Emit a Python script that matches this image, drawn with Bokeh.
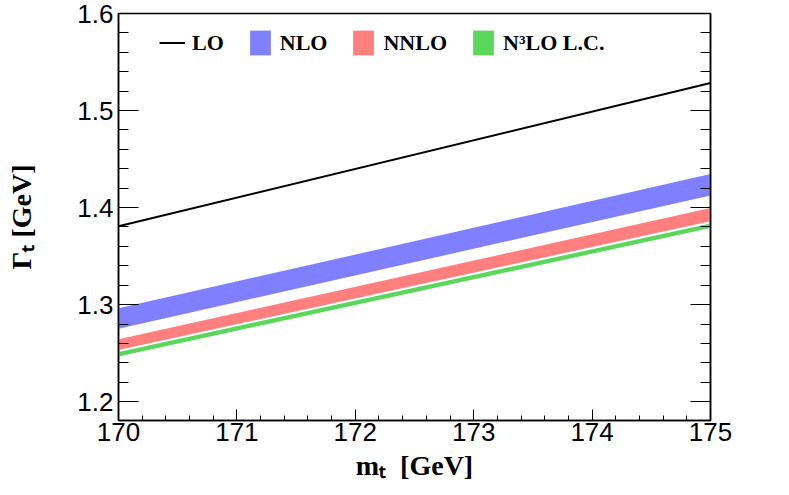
from bokeh.plotting import figure
from bokeh.models import (Range1d, LinearAxis, FixedTicker, Legend, LegendItem)
from bokeh.embed import file_html
from bokeh.resources import INLINE

# ---- data ----
mt = [170.0, 175.0]
lo = [1.3808, 1.5283]
nlo_lo = [1.2752, 1.4125]
nlo_hi = [1.2962, 1.4346]
nnlo_lo = [1.2533, 1.3859]
nnlo_hi = [1.2643, 1.3995]
n3lo_lo = [1.2466, 1.3790]
n3lo_hi = [1.2513, 1.3835]

x_ticks = [170, 171, 172, 173, 174, 175]
x_minor = [170 + 0.2 * i for i in range(26)]
y_ticks = [1.2, 1.3, 1.4, 1.5, 1.6]
y_minor = [round(1.18 + 0.02 * i, 2) for i in range(22)]

x_title = "mₜ\u00a0\u00a0[GeV]"
y_title = "Γₜ [GeV]"

c_nlo = "#7f7fff"
c_nnlo = "#ff7f7f"
c_n3lo = "#5bd75b"

p = figure(frame_width=592, frame_height=407, output_backend="svg",
           toolbar_location=None, x_range=Range1d(170, 175),
           y_range=Range1d(1.1806, 1.6),
           min_border_left=118, min_border_top=13, min_border_right=60,
           min_border_bottom=66)
p.background_fill_color = "white"
p.border_fill_color = "white"
p.xgrid.visible = False
p.ygrid.visible = False
p.outline_line_color = "black"
p.outline_line_width = 1.5

r_nlo = p.varea(x=mt, y1=nlo_lo, y2=nlo_hi, fill_color=c_nlo)
r_nnlo = p.varea(x=mt, y1=nnlo_lo, y2=nnlo_hi, fill_color=c_nnlo)
r_n3lo = p.varea(x=mt, y1=n3lo_lo, y2=n3lo_hi, fill_color=c_n3lo)
r_lo = p.line(x=mt, y=lo, line_color="black", line_width=2)

tick_font = "Liberation Sans"
serif = "Liberation Serif"

xa = p.xaxis[0]
xa.ticker = FixedTicker(ticks=x_ticks, minor_ticks=x_minor)
xa.major_tick_in = 11
xa.major_tick_out = 0
xa.minor_tick_in = 5
xa.minor_tick_out = 0
xa.axis_line_width = 1.5
xa.major_label_text_font = tick_font
xa.major_label_text_font_size = "26px"
xa.major_label_text_color = "black"
xa.major_label_standoff = 2
xa.axis_label = x_title
xa.axis_label_text_font = serif
xa.axis_label_text_font_style = "bold"
xa.axis_label_text_font_size = "28px"
xa.axis_label_text_color = "black"
xa.axis_label_standoff = 6

ya = p.yaxis[0]
ya.ticker = FixedTicker(ticks=y_ticks, minor_ticks=y_minor)
ya.major_tick_in = 20
ya.major_tick_out = 0
ya.minor_tick_in = 10
ya.minor_tick_out = 0
ya.axis_line_width = 1.5
ya.major_label_text_font = tick_font
ya.major_label_text_font_size = "26px"
ya.major_label_text_color = "black"
ya.major_label_standoff = 5
ya.axis_label = y_title
ya.axis_label_text_font = serif
ya.axis_label_text_font_style = "bold"
ya.axis_label_text_font_size = "28px"
ya.axis_label_text_color = "black"
ya.axis_label_standoff = 37

ra = LinearAxis(ticker=FixedTicker(ticks=y_ticks, minor_ticks=y_minor))
ra.major_tick_in = 20
ra.major_tick_out = 0
ra.minor_tick_in = 10
ra.minor_tick_out = 0
ra.axis_line_width = 1.5
ra.major_label_text_font_size = "0px"
ra.major_label_text_alpha = 0
p.add_layout(ra, "right")

legend = Legend(items=[
    LegendItem(label="LO", renderers=[r_lo]),
    LegendItem(label="NLO", renderers=[r_nlo]),
    LegendItem(label="NNLO", renderers=[r_nnlo]),
    LegendItem(label="N³LO L.C.", renderers=[r_n3lo]),
], orientation="horizontal", location=(41, 362), padding=0, margin=0,
    spacing=23, label_standoff=7, glyph_width=26, glyph_height=31,
    label_height=31, border_line_color=None, background_fill_alpha=0)
legend.label_text_font = serif
legend.label_text_font_style = "bold"
legend.label_text_font_size = "22px"
legend.label_text_color = "black"
p.add_layout(legend)

open("out.html", "w").write(file_html(p, INLINE))
